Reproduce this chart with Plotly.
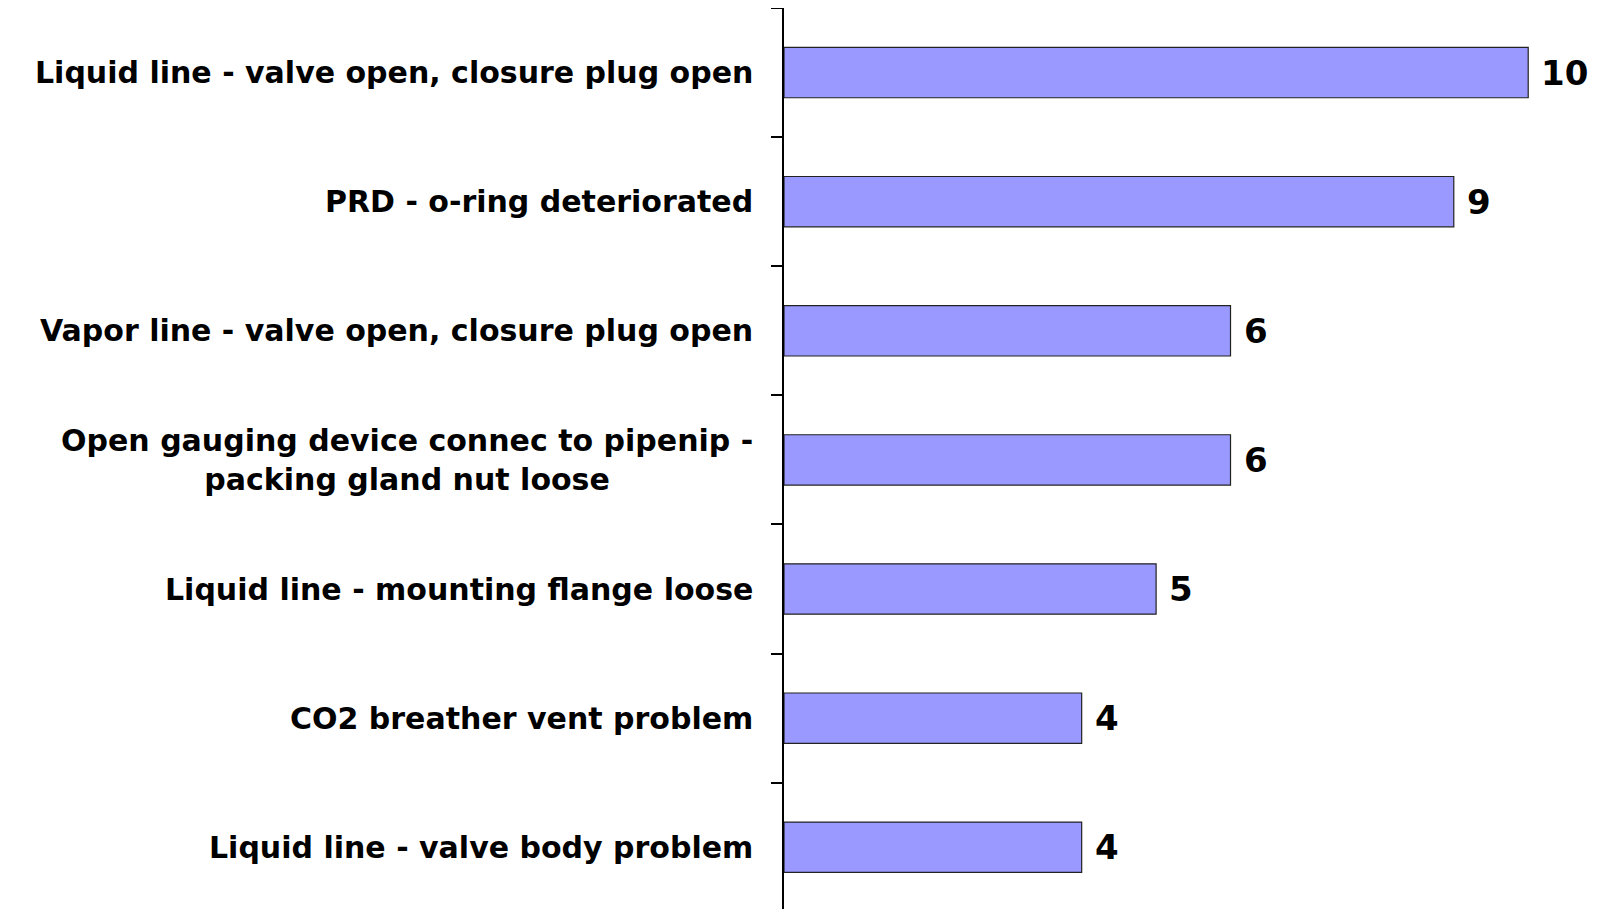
import plotly.graph_objects as go

categories = [
    "Liquid line - valve open, closure plug open",
    "PRD - o-ring deteriorated",
    "Vapor line - valve open, closure plug open",
    "Open gauging device connec to pipenip -<br>packing gland nut loose",
    "Liquid line - mounting flange loose",
    "CO2 breather vent problem",
    "Liquid line - valve body problem",
]
counts = [10, 9, 6, 6, 5, 4, 4]

fig = go.Figure()
fig.add_trace(go.Bar(
    x=counts, y=categories, orientation="h", width=0.39,
    marker=dict(color="#9999FF", line=dict(color="#222222", width=1.2)),
    hoverinfo="skip",
))

label_font = dict(family="DejaVu Sans", size=30, color="black", weight="bold")
value_font = dict(family="DejaVu Sans", size=34, color="black", weight="bold")

for cat, val in zip(categories, counts):
    fig.add_annotation(x=0, y=cat, xref="x", yref="y", text=cat, showarrow=False,
                       xanchor="right", yanchor="middle", align="center",
                       xshift=-29, font=label_font)
    fig.add_annotation(x=val, y=cat, xref="x", yref="y", text=str(val), showarrow=False,
                       xanchor="left", yanchor="middle", xshift=11, font=value_font)

fig.update_xaxes(visible=False, range=[0, 10.79])
fig.update_yaxes(range=[6.54, -0.5], showticklabels=False, showline=True,
                 linecolor="black", linewidth=1.5, ticks="outside", tickson="boundaries",
                 ticklen=11, tickcolor="black", tickwidth=1.5, showgrid=False)
fig.update_layout(width=1599, height=909, margin=dict(l=776, r=20, t=0, b=0),
                  plot_bgcolor="white", paper_bgcolor="white", showlegend=False)
fig.write_html("out.html")
